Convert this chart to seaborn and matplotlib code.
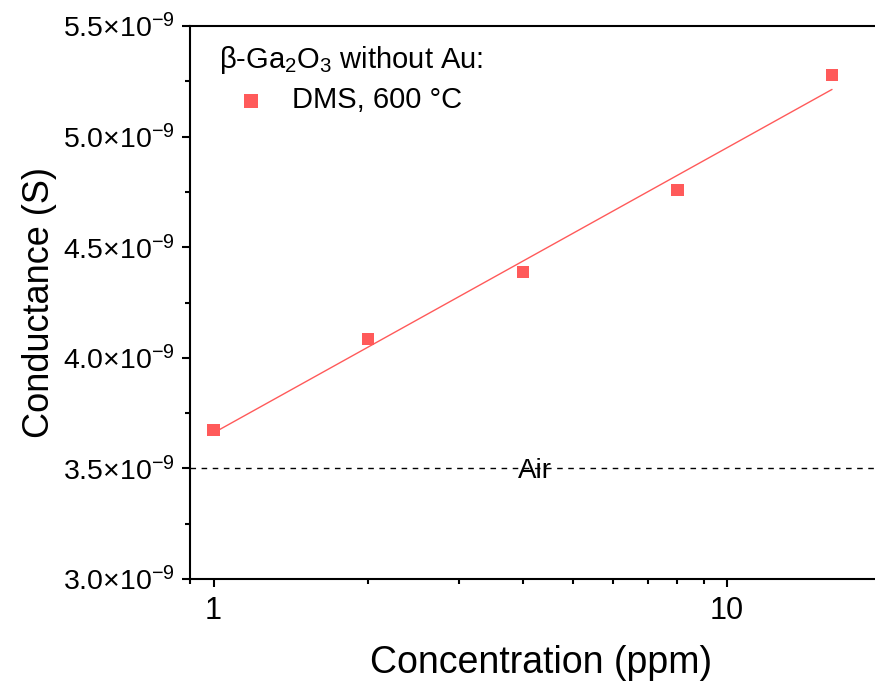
import numpy as np
import pandas as pd
import seaborn as sns
import matplotlib
matplotlib.use("Agg")
import matplotlib.pyplot as plt
from matplotlib.ticker import FuncFormatter, FixedLocator, NullFormatter

# Data
concentration = [1, 2, 4, 8, 16]                          # ppm
conductance = [3.674e-9, 4.085e-9, 4.388e-9, 4.759e-9, 5.278e-9]  # S
air_level = 3.5e-9
air_label_x = 4.22
series_label = "DMS, 600 °C"
legend_title = r"β-Ga$_2$O$_3$ without Au:"
xtick_values = [1, 10]
xminor_values = [0.9, 2, 3, 4, 5, 6, 7, 8, 9]
ytick_values = [3.0e-9, 3.5e-9, 4.0e-9, 4.5e-9, 5.0e-9, 5.5e-9]
yminor_values = [3.25e-9, 3.75e-9, 4.25e-9, 4.75e-9, 5.25e-9]

sns.set_style("ticks")
plt.rcParams["font.family"] = ["Liberation Sans", "DejaVu Sans"]
plt.rcParams["mathtext.fontset"] = "custom"
plt.rcParams["mathtext.rm"] = "Liberation Sans"
plt.rcParams["mathtext.it"] = "Liberation Sans:italic"
plt.rcParams["mathtext.bf"] = "Liberation Sans:bold"
for k in ["text.color", "axes.labelcolor", "xtick.color", "ytick.color", "axes.edgecolor"]:
    plt.rcParams[k] = "black"

red = "#ff5a5a"

fig = plt.figure(figsize=(8.75, 6.84), dpi=100)
ax = fig.add_axes([190 / 875, 1 - 579 / 684, 1 - 190 / 875, (579 - 26) / 684])

df = pd.DataFrame({"conc": concentration, "cond": conductance})

# linear fit of conductance vs log10(concentration)
slope, intercept = np.polyfit(np.log10(df["conc"]), df["cond"], 1)
xfit = np.array([min(concentration), max(concentration)], dtype=float)
yfit = intercept + slope * np.log10(xfit)
ax.plot(xfit, yfit, color=red, lw=1.0, zorder=2)

sns.scatterplot(data=df, x="conc", y="cond", marker="s", s=80, color=red,
                edgecolor="none", linewidth=0, label=series_label, ax=ax, zorder=3)

ax.axhline(air_level, color="black", lw=1.0, ls=(0, (4, 4)), zorder=1)
ax.annotate("Air", xy=(air_label_x, air_level), xytext=(0, -2), textcoords="offset points",
            ha="center", va="center", fontsize=20)

ax.set_xscale("log")
ax.set_xlim(0.9, 19.4)
ax.set_ylim(3.0e-9, 5.5e-9)
ax.xaxis.set_major_locator(FixedLocator(xtick_values))
ax.xaxis.set_major_formatter(FuncFormatter(lambda v, p: f"{v:g}"))
ax.xaxis.set_minor_locator(FixedLocator(xminor_values))
ax.xaxis.set_minor_formatter(NullFormatter())
ax.yaxis.set_major_locator(FixedLocator(ytick_values))
ax.yaxis.set_minor_locator(FixedLocator(yminor_values))
ax.yaxis.set_major_formatter(FuncFormatter(lambda v, p: f"{v*1e9:.1f}" + r"$\times$10$^{-9}$"))

ax.tick_params(which="major", direction="out", length=6, width=1.5)
ax.tick_params(which="minor", direction="out", length=3.5, width=1.5)
ax.tick_params(axis="x", which="major", pad=6, labelsize=22)
ax.tick_params(axis="y", which="major", pad=5, labelsize=20.5)
for s in ["left", "bottom", "top"]:
    ax.spines[s].set_linewidth(1.5)
ax.spines["right"].set_visible(False)

ax.set_xlabel("Concentration (ppm)", fontsize=27, labelpad=12)
ax.xaxis.set_label_coords((541 - 190) / 685, -0.119)
ax.set_ylabel("Conductance (S)", fontsize=26, labelpad=4)

leg = ax.legend(title=legend_title, loc="upper left", bbox_to_anchor=(0.0, 1.02),
                frameon=False, fontsize=21, title_fontsize=21, alignment="left",
                handlelength=2.2, handletextpad=0.3, labelspacing=0.35,
                borderaxespad=0.6, markerscale=1.15)

fig.savefig("out.png", dpi=100)
